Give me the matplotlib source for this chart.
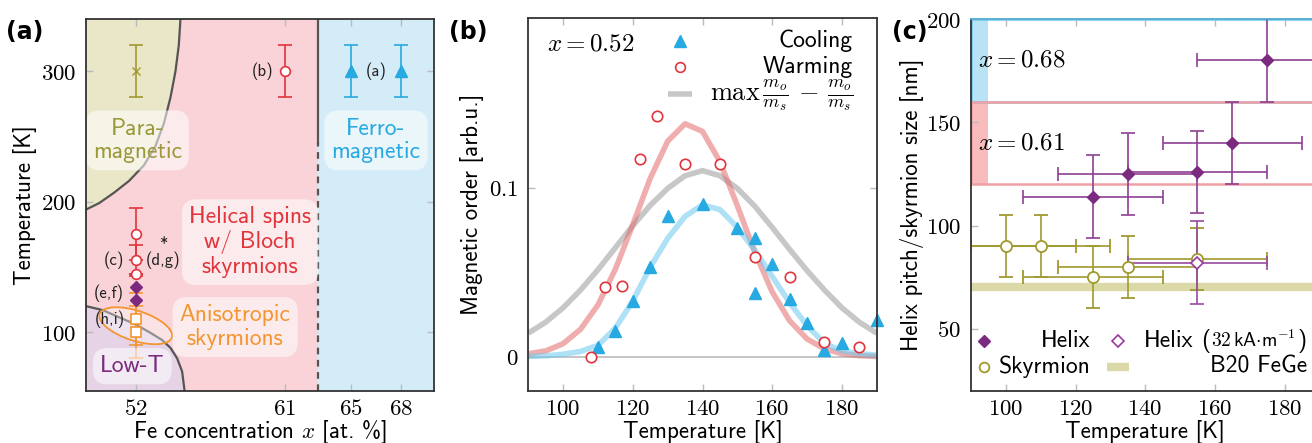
import numpy as np
import matplotlib
matplotlib.use("Agg")
import matplotlib.pyplot as plt
from matplotlib.patches import Ellipse, Rectangle
from matplotlib.transforms import ScaledTranslation

plt.rcParams['font.family'] = ['cmss10', 'DejaVu Sans']
plt.rcParams['mathtext.fontset'] = 'cm'
plt.rcParams['axes.unicode_minus'] = False

# ---- panel (a): phase diagram ----
para_x = [54.7, 54.6, 54.4, 54.1, 53.7, 53.2, 52.5, 51.6, 50.7, 49.8, 49.0]
para_T = [340, 320, 300, 280, 260, 243, 228, 216, 207, 199, 194]
lowT_x = [49.0, 50.0, 50.9, 52.0, 52.9, 53.6, 54.1, 54.5, 54.8, 54.95]
lowT_T = [120, 117, 112, 106, 99.5, 94, 88, 80, 70, 55]
ferro_border = 63
border_dash_below = 245

para_pt_x, para_pt_T, para_pt_err = [52], [300], [20]
b_x, b_T, b_err = [61], [300], [20]
ferro_x, ferro_T, ferro_err = [65, 68], [300, 300], [20, 20]
c_x, c_T, c_err = [52, 52, 52], [175, 155, 145], [20, 12, 0]
ef_x, ef_T = [52, 52], [135, 125]
hi_x, hi_T, hi_err = [52, 52], [110, 100], [20, 20]

# ---- panel (b): magnetic order ----
cool_T = [110, 115, 120, 125, 130, 140, 150, 155, 155, 160, 165, 170, 175, 180, 190]
cool_m = [0.006, 0.015, 0.033, 0.053, 0.083, 0.090, 0.076, 0.070, 0.038, 0.055,
          0.034, 0.020, 0.004, 0.008, 0.022]
warm_T = [108, 112, 117, 122, 127, 135, 145, 155, 165, 175, 185]
warm_m = [0.0, 0.041, 0.042, 0.117, 0.142, 0.114, 0.114, 0.059, 0.047, 0.009, 0.006]
fit_T = [90, 95, 100, 105, 110, 115, 120, 125, 130, 135, 140,
         145, 150, 155, 160, 165, 170, 175, 180, 185, 190]
fit_cool = [0.0002, 0.0006, 0.0015, 0.0032, 0.0068, 0.017, 0.033, 0.053, 0.070, 0.083, 0.0898,
            0.087, 0.0765, 0.063, 0.0475, 0.032, 0.0185, 0.008, 0.0035, 0.0018, 0.001]
fit_warm = [0.0018, 0.0035, 0.0078, 0.0163, 0.0307, 0.0518, 0.0781, 0.1055, 0.1274, 0.1377, 0.1332,
            0.1153, 0.0893, 0.0619, 0.0384, 0.0213, 0.0106, 0.0047, 0.0019, 0.0007, 0.0002]
fit_diff = [0.014, 0.0205, 0.029, 0.0395, 0.0515, 0.0645, 0.0775, 0.0895, 0.0995, 0.107, 0.110,
            0.107, 0.0995, 0.089, 0.0765, 0.0635, 0.051, 0.0395, 0.029, 0.0205, 0.014]

# ---- panel (c): helix pitch / skyrmion size ----
helix_T = [125, 135, 155, 165, 175]
helix_d = [114, 125, 126, 140, 180]
helix_Terr = [20, 20, 20, 20, 20]
helix_derr = [20, 20, 20, 20, 20]
helix32_T, helix32_d, helix32_Terr, helix32_derr = [155], [82], [20], [20]
sky_T = [100, 110, 125, 135, 155]
sky_d = [90, 90, 75, 80, 84]
sky_Terr = [20, 20, 20, 20, 20]
sky_derr = [15, 15, 15, 15, 15]
b20_pitch = 70
band_068 = (160, 200)
band_061 = (120, 160)

RED = '#e2343c'
BLUE = '#27a9e1'
OLIVE = '#a09a30'
PURPLE = '#7b2a80'
ORANGE = '#f39530'
TICKC = '#bbbbbb'
FS = 17

W, H = 1312, 443
fig = plt.figure(figsize=(W / 100, H / 100), dpi=100)


def style(ax, xlab, ylab, ylab_x, xlab_y):
    ax.tick_params(direction='in', length=5, width=1, color=TICKC, labelsize=16.5,
                   top=True, right=True, pad=7)
    ax.tick_params(axis='x', pad=5)
    for s in ax.spines.values():
        s.set_color('#333333')
        s.set_linewidth(1.3)
        s.set_zorder(10)
    ax.set_xlabel(xlab, fontsize=16.5, va='baseline')
    ax.xaxis.set_label_coords(0.5, xlab_y)
    ax.set_ylabel(ylab, fontsize=16.5, va='center')
    ax.yaxis.set_label_coords(ylab_x, 0.5)


# ================= (a) =================
ax1 = fig.add_axes([86 / W, 1 - 391 / H, 348 / W, 372 / H])
ax1.set_xlim(49, 70)
ax1.set_ylim(55, 340)
ax1.axvspan(49, ferro_border, color='#f9d3d7', lw=0, zorder=0)
ax1.axvspan(ferro_border, 70, color='#d3ecf8', lw=0, zorder=0)
ax1.fill(para_x + [49], para_T + [340], color='#e9e7c8', lw=0, zorder=0.5)
ax1.fill(lowT_x + [49], lowT_T + [55], color='#e6d3e6', lw=0, zorder=0.5)
ax1.plot(para_x, para_T, color='#555555', lw=1.6, zorder=1)
ax1.plot(lowT_x, lowT_T, color='#555555', lw=1.6, zorder=1)
ax1.plot([ferro_border, ferro_border], [border_dash_below, 340], color='#555555', lw=1.6)
ax1.plot([ferro_border, ferro_border], [55, border_dash_below], color='#555555', lw=1.6,
         ls=(0, (3, 2.5)))

eb = dict(capsize=5, elinewidth=1.2, capthick=1.2, ls='none', zorder=4)
ax1.errorbar(para_pt_x, para_pt_T, yerr=para_pt_err, marker='x', ms=6, color=OLIVE, **eb)
ax1.errorbar(b_x, b_T, yerr=b_err, marker='o', ms=7, mfc='white', mec=RED, mew=1.2,
             color=RED, **eb)
ax1.errorbar(ferro_x, ferro_T, yerr=ferro_err, marker='^', ms=8, color=BLUE, **eb)
ax1.errorbar(hi_x, hi_T, yerr=hi_err, marker='s', ms=7, mfc='white', mec=ORANGE, mew=1.2,
             color=ORANGE, **eb)
ax1.errorbar(c_x, c_T, yerr=c_err, marker='o', ms=7, mfc='white', mec=RED, mew=1.2,
             color=RED, **eb)
ax1.plot(ef_x, ef_T, 'D', ms=6.5, color=PURPLE, zorder=5)

ell_trans = fig.dpi_scale_trans + ScaledTranslation(52.0, 105, ax1.transData)
ax1.add_patch(Ellipse((0, 0), 0.76, 0.30, angle=-18, fc='white', alpha=0.35,
                      ec='none', transform=ell_trans, zorder=2))
ax1.add_patch(Ellipse((0, 0), 0.76, 0.30, angle=-18, fc='none', ec=ORANGE, lw=1.3,
                      transform=ell_trans, zorder=3))

box = dict(boxstyle='round,pad=0.3,rounding_size=0.6', fc='white', ec='none', alpha=0.55)
region = dict(fontsize=FS, ha='center', va='center', bbox=box, linespacing=1.1, zorder=6)
ax1.text(52.1, 247, 'Para-\nmagnetic', color='#9a9838', **region)
ax1.text(66.5, 247, 'Ferro-\nmagnetic', color=BLUE, **region)
ax1.text(58.9, 169, 'Helical spins\nw/ Bloch\nskyrmions', color=RED, **region)
ax1.text(58.0, 104, 'Anisotropic\nskyrmions', color=ORANGE, **region)
ax1.text(51.8, 74, 'Low-T', color=PURPLE, **region)

small = dict(fontsize=12, ha='center', va='center', color='#222222', zorder=6)
ax1.text(59.65, 300, '(b)', **small)
ax1.text(66.5, 300, '(a)', **small)
ax1.text(50.66, 155.5, '(c)', **small)
ax1.text(53.66, 155.5, '(d,g)', **small)
ax1.text(53.7, 167, '*', **small)
ax1.text(50.36, 130, '(e,f)', **small)
ax1.text(50.42, 109.7, '(h,i)', **small)

ax1.set_xticks([52, 61, 65, 68], ['$52$', '$61$', '$65$', '$68$'])
ax1.set_yticks([100, 200, 300], ['$100$', '$200$', '$300$'])
style(ax1, 'Fe concentration $x$ [at. %]', 'Temperature [K]', -0.175, -0.125)

# ================= (b) =================
ax2 = fig.add_axes([528.3 / W, 1 - 390.7 / H, 348.4 / W, 372.4 / H])
ax2.set_xlim(90, 190)
ax2.set_ylim(-0.02, 0.2)
ax2.axhline(0, color='#bbbbbb', lw=1.2, zorder=1)
ax2.plot(fit_T, fit_diff, color='#9a9a9a', lw=4, alpha=0.55, solid_capstyle='butt', zorder=2)
ax2.plot(fit_T, fit_warm, color='#e36a6a', lw=4, alpha=0.55, solid_capstyle='butt', zorder=2)
ax2.plot(fit_T, fit_cool, color='#6cc8ef', lw=4, alpha=0.55, solid_capstyle='butt', zorder=2)
ax2.plot(cool_T, cool_m, '^', ms=8, color=BLUE, ls='none', zorder=4, clip_on=False)
ax2.plot(warm_T, warm_m, 'o', ms=7.5, mfc='white', mec=RED, mew=1.2, ls='none', zorder=4)

ax2.text(0.053, 0.931, '$x = 0.52$', transform=ax2.transAxes, fontsize=18, va='center')
ax2.plot([0.435], [0.939], '^', ms=8, color=BLUE, transform=ax2.transAxes, clip_on=False)
ax2.plot([0.435], [0.868], 'o', ms=7, mfc='white', mec=RED, mew=1.2,
         transform=ax2.transAxes)
ax2.plot([0.401, 0.47], [0.796, 0.796], color='#9a9a9a', lw=4, alpha=0.55,
         transform=ax2.transAxes, solid_capstyle='butt')
ax2.text(0.931, 0.939, 'Cooling', transform=ax2.transAxes, fontsize=FS, ha='right',
         va='center')
ax2.text(0.931, 0.868, 'Warming', transform=ax2.transAxes, fontsize=FS, ha='right',
         va='center')
ax2.text(0.931, 0.793, r'$\max\,\frac{m_o}{m_s}\,-\,\frac{m_o}{m_s}$',
         transform=ax2.transAxes, fontsize=19, ha='right', va='center')

ax2.set_xticks([100, 120, 140, 160, 180], ['$100$', '$120$', '$140$', '$160$', '$180$'])
ax2.set_yticks([0, 0.1], ['$0$', '$0.1$'])
style(ax2, 'Temperature [K]', 'Magnetic order [arb.u.]', -0.1625, -0.127)

# ================= (c) =================
ax3 = fig.add_axes([971 / W, 1 - 390.7 / H, 348.4 / W, 371.7 / H])
ax3.set_xlim(90, 190)
ax3.set_ylim(20, 200)
ax3.add_patch(Rectangle((90, band_068[0]), 5, band_068[1] - band_068[0], fc='#b9e2f5',
                        ec='none', zorder=0))
ax3.add_patch(Rectangle((90, band_061[0]), 5, band_061[1] - band_061[0], fc='#f8bcbc',
                        ec='none', zorder=0))
ax3.add_patch(Rectangle((90, band_068[0]), 100, band_068[1] - band_068[0], fc='none',
                        ec='#6cc8ef', lw=1.8, zorder=1, clip_on=False))
ax3.add_patch(Rectangle((90, band_061[0]), 100, band_061[1] - band_061[0], fc='none',
                        ec='#f0a0a4', lw=1.8, zorder=1))
ax3.axhline(b20_pitch, color='#dcd9a8', lw=6, zorder=1)
ax3.text(92, 180, '$x = 0.68$', fontsize=18, va='center')
ax3.text(92, 140, '$x = 0.61$', fontsize=18, va='center')

eb3 = dict(capsize=5, elinewidth=1.2, capthick=1.2, ls='none', zorder=4)
ax3.errorbar(sky_T, sky_d, xerr=sky_Terr, yerr=sky_derr, marker='o', ms=8, mfc='white',
             mec=OLIVE, mew=1.3, color=OLIVE, **eb3)
ax3.errorbar(helix32_T, helix32_d, xerr=helix32_Terr, yerr=helix32_derr, marker='D', ms=6,
             mfc='white', mec='#9a3aa0', mew=1.2, color='#9a4aa0', **eb3)
ax3.errorbar(helix_T, helix_d, xerr=helix_Terr, yerr=helix_derr, marker='D', ms=6.5,
             color=PURPLE, ecolor='#8e4094', **eb3)

leg = dict(transform=ax3.transAxes, ls='none', clip_on=False)
ax3.plot([0.037], [0.1345], 'D', ms=6.5, color=PURPLE, **leg)
ax3.plot([0.423], [0.1345], 'D', ms=6, mfc='white', mec='#9a3aa0', mew=1.2, **leg)
ax3.plot([0.037], [0.0646], 'o', ms=7, mfc='white', mec=OLIVE, mew=1.3, **leg)
ax3.plot([0.389, 0.454], [0.0646, 0.0646], color='#dcd9a8', lw=6, transform=ax3.transAxes,
         solid_capstyle='butt')
ltxt = dict(transform=ax3.transAxes, fontsize=FS, ha='right', va='center')
ax3.text(0.3436, 0.1345, 'Helix', **ltxt)
ax3.text(0.3436, 0.0646, 'Skyrmion', **ltxt)
ax3.text(0.638, 0.1345, 'Helix', **ltxt)
close_par = ax3.text(0.9635, 0.1345, ')', **ltxt)
unit_txt = ax3.annotate(r'$\mathsf{32\,kA{\cdot}m}^{-1}$', xy=(0, 0.5), xycoords=close_par,
                        xytext=(-1, 0), textcoords='offset points', fontsize=14,
                        ha='right', va='center')
ax3.annotate('(', xy=(0, 0.5), xycoords=unit_txt, xytext=(-1, 0),
             textcoords='offset points', fontsize=FS, ha='right', va='center')
ax3.text(0.9635, 0.0646, 'B20 FeGe', **ltxt)

ax3.set_xticks([100, 120, 140, 160, 180], ['$100$', '$120$', '$140$', '$160$', '$180$'])
ax3.set_yticks([50, 100, 150, 200], ['$50$', '$100$', '$150$', '$200$'])
style(ax3, 'Temperature [K]', 'Helix pitch/skyrmion size [nm]', -0.170, -0.127)
ax3.spines['top'].set_color('#5aaed6')

# panel letters
for x, lab in [(25, '(a)'), (468, '(b)'), (910, '(c)')]:
    fig.text(x / W, 1 - 32 / H, lab, fontsize=17, fontweight='bold', family='DejaVu Sans',
             ha='center', va='center')

fig.savefig('out.png', dpi=100)
